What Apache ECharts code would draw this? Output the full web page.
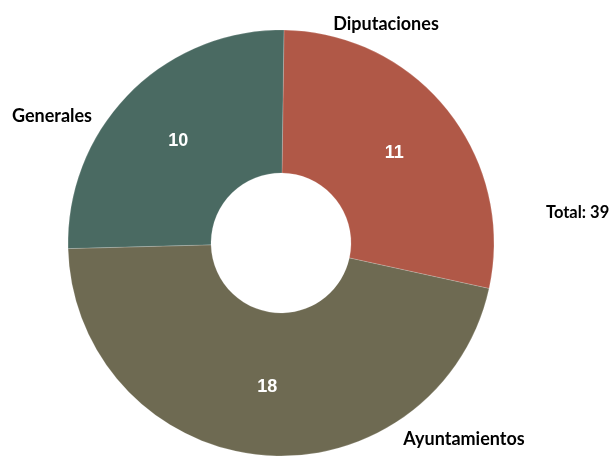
<!DOCTYPE html>
<html>
<head>
<meta charset="utf-8">
<script src="https://cdn.jsdelivr.net/npm/echarts@6/dist/echarts.min.js"></script>
<style>
html,body{margin:0;padding:0;background:#fff;}
#container{width:615px;height:457px;}
</style>
</head>
<body>
<div id="container"></div>
<script>
var names = ['Diputaciones', 'Ayuntamientos', 'Generales'];
var values = [11, 18, 10];
var colors = ['#B05847', '#6E6A52', '#4A6A62'];
// where the category names sit
var nameSpots = [[386, 24], [464, 439], [52, 116]];

var total = values.reduce(function (a, b) { return a + b; }, 0);
var pieData = names.map(function (n, i) {
    return { name: n, value: values[i], itemStyle: { color: colors[i] } };
});

var myChart = echarts.init(document.getElementById('container'));
var option = {
    animation: false,
    graphic: [{
        type: 'text',
        left: 546,
        top: 204,
        style: {
            text: 'Total: ' + total,
            font: 'bold 16.5px Lato, "Open Sans", sans-serif',
            fill: '#000'
        }
    }],
    series: [
        {
            type: 'pie',
            center: [281, 243],
            radius: [70, 213],
            startAngle: 89.2,
            clockwise: true,
            data: pieData,
            itemStyle: { borderColor: 'rgba(255,255,255,0.35)', borderWidth: 0.5 },
            label: {
                position: 'inside',
                formatter: '{c}',
                color: '#fff',
                fontWeight: 'bold',
                fontSize: 18,
                fontFamily: '"Liberation Sans", Arial, sans-serif'
            },
            labelLine: { show: false },
            emphasis: { disabled: true }
        },
        {
            type: 'pie',
            center: [281, 243],
            radius: [70, 213],
            startAngle: 89.2,
            silent: true,
            data: names.map(function (n, i) { return { name: n, value: values[i] }; }),
            itemStyle: { color: 'transparent' },
            label: {
                show: true,
                position: 'outside',
                formatter: '{b}',
                overflow: 'none',
                color: '#000',
                fontWeight: 'bold',
                fontSize: 18,
                fontFamily: 'Lato, "Open Sans", sans-serif'
            },
            labelLine: { show: false },
            labelLayout: function (p) {
                var s = nameSpots[p.dataIndex];
                return { x: s[0], y: s[1], align: 'center', verticalAlign: 'middle' };
            },
            emphasis: { disabled: true }
        }
    ]
};
myChart.setOption(option);
</script>
</body>
</html>
